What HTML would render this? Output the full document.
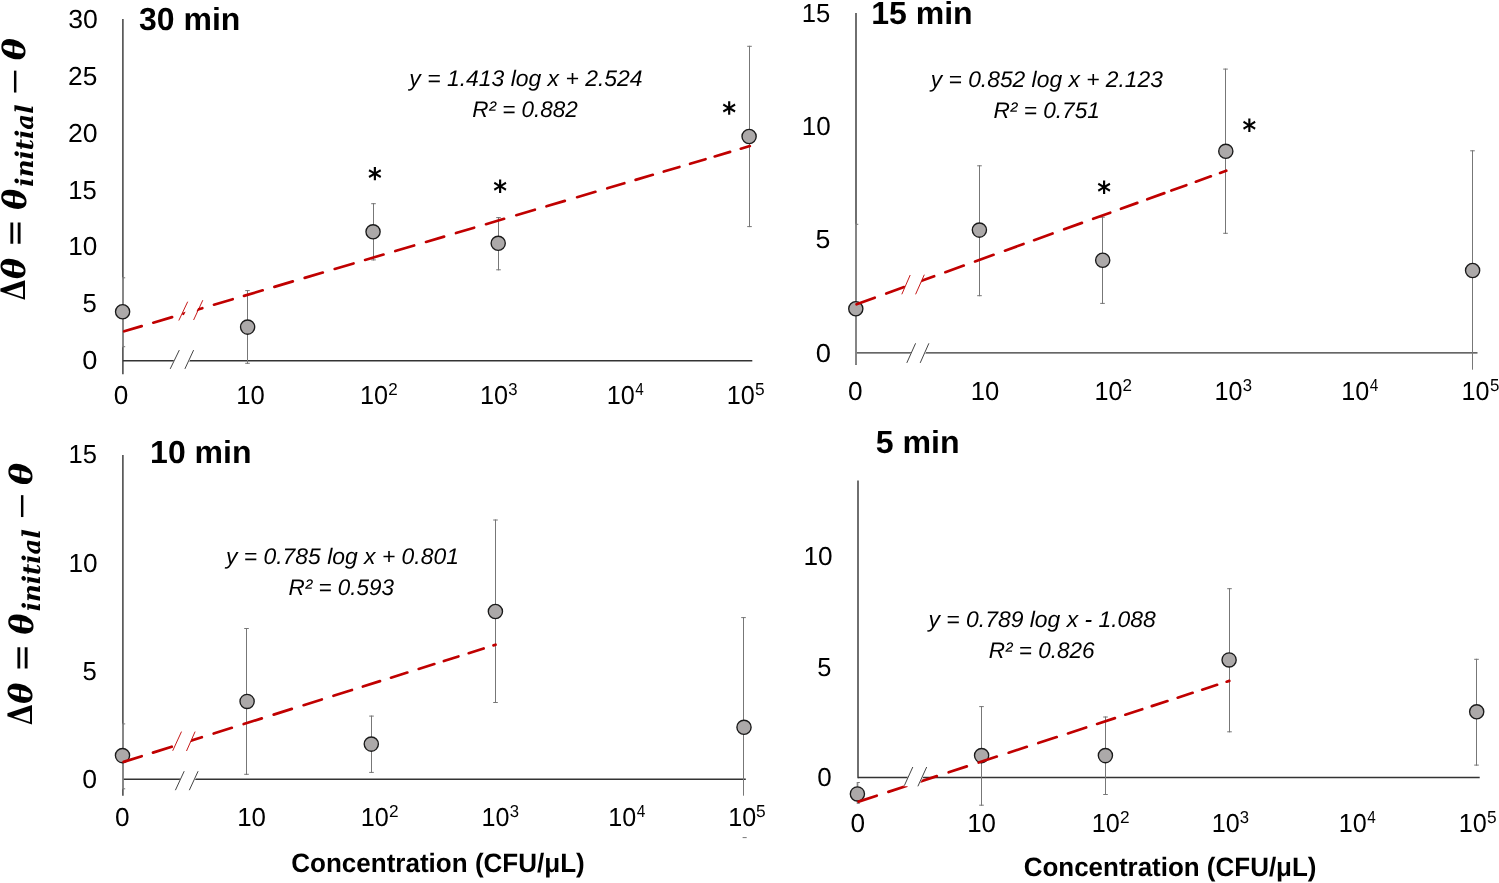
<!DOCTYPE html>
<html><head><meta charset="utf-8"><title>Contact angle change vs concentration</title>
<style>html,body{margin:0;padding:0;background:#fff;}svg{display:block;}</style></head>
<body><svg width="1499" height="883" viewBox="0 0 1499 883">
<rect x="0" y="0" width="1499" height="883" fill="#fff"/>
<g id="tl">
<line x1="122.90" y1="19.00" x2="122.90" y2="374.30" stroke="#333333" stroke-width="1.4"/>
<line x1="122.90" y1="360.70" x2="752.30" y2="360.70" stroke="#333333" stroke-width="1.4"/>
<line x1="122.90" y1="277.30" x2="122.90" y2="347.20" stroke="#8a8a8a" stroke-width="1.7"/>
<line x1="122.90" y1="277.80" x2="125.20" y2="277.80" stroke="#777777" stroke-width="1.0"/>
<line x1="122.90" y1="346.70" x2="125.20" y2="346.70" stroke="#777777" stroke-width="1.0"/>
<line x1="247.50" y1="290.10" x2="247.50" y2="363.80" stroke="#777777" stroke-width="1.0"/>
<line x1="245.20" y1="290.60" x2="249.80" y2="290.60" stroke="#777777" stroke-width="1.0"/>
<line x1="245.20" y1="363.30" x2="249.80" y2="363.30" stroke="#777777" stroke-width="1.0"/>
<line x1="373.50" y1="203.20" x2="373.50" y2="260.40" stroke="#777777" stroke-width="1.0"/>
<line x1="371.20" y1="203.70" x2="375.80" y2="203.70" stroke="#777777" stroke-width="1.0"/>
<line x1="371.20" y1="259.90" x2="375.80" y2="259.90" stroke="#777777" stroke-width="1.0"/>
<line x1="498.50" y1="217.10" x2="498.50" y2="270.30" stroke="#777777" stroke-width="1.0"/>
<line x1="496.20" y1="217.60" x2="500.80" y2="217.60" stroke="#777777" stroke-width="1.0"/>
<line x1="496.20" y1="269.80" x2="500.80" y2="269.80" stroke="#777777" stroke-width="1.0"/>
<line x1="749.50" y1="45.80" x2="749.50" y2="227.10" stroke="#777777" stroke-width="1.0"/>
<line x1="747.20" y1="46.30" x2="751.80" y2="46.30" stroke="#777777" stroke-width="1.0"/>
<line x1="747.20" y1="226.60" x2="751.80" y2="226.60" stroke="#777777" stroke-width="1.0"/>
<circle cx="122.60" cy="311.80" r="7.1" fill="#aca9a9" stroke="#1a1a1a" stroke-width="1.35"/>
<circle cx="247.60" cy="327.10" r="7.1" fill="#aca9a9" stroke="#1a1a1a" stroke-width="1.35"/>
<circle cx="373.05" cy="231.80" r="7.1" fill="#aca9a9" stroke="#1a1a1a" stroke-width="1.35"/>
<circle cx="498.20" cy="243.30" r="7.1" fill="#aca9a9" stroke="#1a1a1a" stroke-width="1.35"/>
<circle cx="749.10" cy="136.50" r="7.1" fill="#aca9a9" stroke="#1a1a1a" stroke-width="1.35"/>
<path d="M124.19 331.32L141.71 326.13 M153.29 322.70L172.11 317.13 M183.49 313.76L202.31 308.19 M213.99 304.73L232.71 299.19 M243.99 295.84L262.71 290.30 M274.39 286.84L292.81 281.39 M304.69 277.87L322.81 272.51 M334.69 268.99L353.51 263.42 M365.09 259.99L383.51 254.54 M395.29 251.05L414.11 245.48 M425.99 241.96L444.11 236.59 M455.99 233.07L474.11 227.71 M485.99 224.19L504.11 218.83 M516.29 215.22L534.81 209.74 M546.49 206.28L564.81 200.85 M577.09 197.22L595.41 191.79 M607.29 188.27L624.31 183.24 M635.59 179.89L652.81 174.80 M663.79 171.54L679.41 166.92 M690.09 163.76L705.51 159.19 M714.69 156.47L730.11 151.91 M740.79 148.74L749.81 146.08" stroke="#c00000" stroke-width="2.7" stroke-linecap="round" fill="none"/>
<polygon points="180.93,321.50 191.48,299.20 202.16,299.20 191.80,321.50" fill="#fff"/>
<line x1="178.80" y1="320.50" x2="187.70" y2="301.70" stroke="#c00000" stroke-width="0.9"/>
<line x1="193.60" y1="320.00" x2="202.80" y2="300.20" stroke="#c00000" stroke-width="0.9"/>
<polygon points="169.70,368.90 178.80,350.10 194.60,350.10 185.90,368.90" fill="#fff"/>
<line x1="170.20" y1="368.90" x2="179.30" y2="350.10" stroke="#444" stroke-width="1.0"/>
<line x1="184.90" y1="368.90" x2="193.60" y2="350.10" stroke="#444" stroke-width="1.0"/>
</g>
<g id="tr">
<line x1="856.00" y1="13.00" x2="856.00" y2="365.00" stroke="#333333" stroke-width="1.4"/>
<line x1="856.00" y1="352.90" x2="1477.50" y2="352.90" stroke="#333333" stroke-width="1.4"/>
<line x1="856.00" y1="223.80" x2="856.00" y2="364.70" stroke="#8a8a8a" stroke-width="1.7"/>
<line x1="856.00" y1="224.30" x2="858.30" y2="224.30" stroke="#777777" stroke-width="1.0"/>
<line x1="979.50" y1="165.30" x2="979.50" y2="296.20" stroke="#777777" stroke-width="1.0"/>
<line x1="977.20" y1="165.80" x2="981.80" y2="165.80" stroke="#777777" stroke-width="1.0"/>
<line x1="977.20" y1="295.70" x2="981.80" y2="295.70" stroke="#777777" stroke-width="1.0"/>
<line x1="1102.50" y1="216.70" x2="1102.50" y2="303.90" stroke="#777777" stroke-width="1.0"/>
<line x1="1100.20" y1="217.20" x2="1104.80" y2="217.20" stroke="#777777" stroke-width="1.0"/>
<line x1="1100.20" y1="303.40" x2="1104.80" y2="303.40" stroke="#777777" stroke-width="1.0"/>
<line x1="1225.50" y1="68.60" x2="1225.50" y2="233.80" stroke="#777777" stroke-width="1.0"/>
<line x1="1223.20" y1="69.10" x2="1227.80" y2="69.10" stroke="#777777" stroke-width="1.0"/>
<line x1="1223.20" y1="233.30" x2="1227.80" y2="233.30" stroke="#777777" stroke-width="1.0"/>
<line x1="1472.50" y1="150.30" x2="1472.50" y2="369.70" stroke="#777777" stroke-width="1.0"/>
<line x1="1470.20" y1="150.80" x2="1474.80" y2="150.80" stroke="#777777" stroke-width="1.0"/>
<circle cx="855.80" cy="308.70" r="7.1" fill="#aca9a9" stroke="#1a1a1a" stroke-width="1.35"/>
<circle cx="979.40" cy="230.10" r="7.1" fill="#aca9a9" stroke="#1a1a1a" stroke-width="1.35"/>
<circle cx="1102.70" cy="260.20" r="7.1" fill="#aca9a9" stroke="#1a1a1a" stroke-width="1.35"/>
<circle cx="1225.80" cy="151.30" r="7.1" fill="#aca9a9" stroke="#1a1a1a" stroke-width="1.35"/>
<circle cx="1472.60" cy="270.50" r="7.1" fill="#aca9a9" stroke="#1a1a1a" stroke-width="1.35"/>
<path d="M856.57 304.26L874.73 297.70 M886.27 293.53L904.13 287.08 M916.07 282.77L934.13 276.25 M945.37 272.19L963.73 265.56 M975.07 261.46L993.53 254.79 M1004.97 250.66L1023.53 243.96 M1034.07 240.15L1052.53 233.48 M1064.17 229.28L1081.93 222.87 M1093.17 218.81L1110.23 212.65 M1120.97 208.77L1137.33 202.86 M1147.27 199.27L1164.33 193.11 M1171.37 190.56L1186.33 185.16 M1195.87 181.72L1210.83 176.31 M1220.07 172.98L1226.23 170.75" stroke="#c00000" stroke-width="2.7" stroke-linecap="round" fill="none"/>
<polygon points="901.36,295.30 910.77,273.70 924.74,273.70 915.16,295.30" fill="#fff"/>
<line x1="901.80" y1="294.30" x2="910.20" y2="275.00" stroke="#c00000" stroke-width="0.9"/>
<line x1="915.60" y1="294.30" x2="924.30" y2="274.70" stroke="#c00000" stroke-width="0.9"/>
<polygon points="906.30,362.90 915.10,343.30 929.90,343.30 921.20,362.90" fill="#fff"/>
<line x1="906.80" y1="362.90" x2="915.60" y2="343.30" stroke="#444" stroke-width="1.0"/>
<line x1="920.20" y1="362.90" x2="928.90" y2="343.30" stroke="#444" stroke-width="1.0"/>
</g>
<g id="bl">
<line x1="122.90" y1="454.90" x2="122.90" y2="795.70" stroke="#333333" stroke-width="1.4"/>
<line x1="122.90" y1="779.30" x2="745.80" y2="779.30" stroke="#333333" stroke-width="1.4"/>
<line x1="122.90" y1="723.40" x2="122.90" y2="789.30" stroke="#8a8a8a" stroke-width="1.7"/>
<line x1="122.90" y1="723.90" x2="125.20" y2="723.90" stroke="#777777" stroke-width="1.0"/>
<line x1="122.90" y1="788.80" x2="125.20" y2="788.80" stroke="#777777" stroke-width="1.0"/>
<line x1="246.50" y1="628.00" x2="246.50" y2="774.80" stroke="#777777" stroke-width="1.0"/>
<line x1="244.20" y1="628.50" x2="248.80" y2="628.50" stroke="#777777" stroke-width="1.0"/>
<line x1="244.20" y1="774.30" x2="248.80" y2="774.30" stroke="#777777" stroke-width="1.0"/>
<line x1="371.50" y1="715.60" x2="371.50" y2="772.90" stroke="#777777" stroke-width="1.0"/>
<line x1="369.20" y1="716.10" x2="373.80" y2="716.10" stroke="#777777" stroke-width="1.0"/>
<line x1="369.20" y1="772.40" x2="373.80" y2="772.40" stroke="#777777" stroke-width="1.0"/>
<line x1="495.50" y1="519.50" x2="495.50" y2="703.00" stroke="#777777" stroke-width="1.0"/>
<line x1="493.20" y1="520.00" x2="497.80" y2="520.00" stroke="#777777" stroke-width="1.0"/>
<line x1="493.20" y1="702.50" x2="497.80" y2="702.50" stroke="#777777" stroke-width="1.0"/>
<line x1="743.50" y1="617.10" x2="743.50" y2="795.70" stroke="#777777" stroke-width="1.0"/>
<line x1="741.20" y1="617.60" x2="745.80" y2="617.60" stroke="#777777" stroke-width="1.0"/>
<circle cx="122.50" cy="755.60" r="7.1" fill="#aca9a9" stroke="#1a1a1a" stroke-width="1.35"/>
<circle cx="247.10" cy="701.40" r="7.1" fill="#aca9a9" stroke="#1a1a1a" stroke-width="1.35"/>
<circle cx="371.30" cy="744.10" r="7.1" fill="#aca9a9" stroke="#1a1a1a" stroke-width="1.35"/>
<circle cx="495.40" cy="611.50" r="7.1" fill="#aca9a9" stroke="#1a1a1a" stroke-width="1.35"/>
<circle cx="744.00" cy="727.30" r="7.1" fill="#aca9a9" stroke="#1a1a1a" stroke-width="1.35"/>
<path d="M123.59 761.88L141.71 756.18 M152.99 752.62L171.71 746.73 M183.09 743.14L201.81 737.25 M213.69 733.51L231.81 727.80 M243.69 724.06L261.81 718.35 M273.69 714.61L291.81 708.90 M303.59 705.19L321.81 699.45 M333.49 695.78L351.91 689.97 M362.89 686.52L380.01 681.12 M390.99 677.67L407.31 672.53 M418.69 668.94L434.31 664.02 M443.89 661.01L458.41 656.43 M468.69 653.20L483.61 648.50 M493.49 645.39L495.51 644.75" stroke="#c00000" stroke-width="2.7" stroke-linecap="round" fill="none"/>
<polygon points="172.15,752.00 181.96,730.60 195.54,730.60 186.06,752.00" fill="#fff"/>
<line x1="172.70" y1="750.80" x2="181.50" y2="731.60" stroke="#c00000" stroke-width="0.9"/>
<line x1="186.50" y1="751.00" x2="195.10" y2="731.60" stroke="#c00000" stroke-width="0.9"/>
<polygon points="174.90,790.20 183.70,771.20 199.10,771.20 190.30,790.20" fill="#fff"/>
<line x1="175.40" y1="790.20" x2="184.20" y2="771.20" stroke="#444" stroke-width="1.0"/>
<line x1="189.30" y1="790.20" x2="198.10" y2="771.20" stroke="#444" stroke-width="1.0"/>
</g>
<g id="br">
<line x1="858.00" y1="480.50" x2="858.00" y2="778.30" stroke="#333333" stroke-width="1.4"/>
<line x1="858.00" y1="777.50" x2="1479.70" y2="777.50" stroke="#333333" stroke-width="1.4"/>
<line x1="857.50" y1="782.00" x2="857.50" y2="803.80" stroke="#8a8a8a" stroke-width="1.7"/>
<line x1="857.50" y1="782.50" x2="859.80" y2="782.50" stroke="#777777" stroke-width="1.0"/>
<line x1="857.50" y1="803.30" x2="859.80" y2="803.30" stroke="#777777" stroke-width="1.0"/>
<line x1="981.50" y1="706.10" x2="981.50" y2="805.70" stroke="#777777" stroke-width="1.0"/>
<line x1="979.20" y1="706.60" x2="983.80" y2="706.60" stroke="#777777" stroke-width="1.0"/>
<line x1="979.20" y1="805.20" x2="983.80" y2="805.20" stroke="#777777" stroke-width="1.0"/>
<line x1="1105.50" y1="716.50" x2="1105.50" y2="795.00" stroke="#777777" stroke-width="1.0"/>
<line x1="1103.20" y1="717.00" x2="1107.80" y2="717.00" stroke="#777777" stroke-width="1.0"/>
<line x1="1103.20" y1="794.50" x2="1107.80" y2="794.50" stroke="#777777" stroke-width="1.0"/>
<line x1="1229.50" y1="588.20" x2="1229.50" y2="732.30" stroke="#777777" stroke-width="1.0"/>
<line x1="1227.20" y1="588.70" x2="1231.80" y2="588.70" stroke="#777777" stroke-width="1.0"/>
<line x1="1227.20" y1="731.80" x2="1231.80" y2="731.80" stroke="#777777" stroke-width="1.0"/>
<line x1="1476.50" y1="658.80" x2="1476.50" y2="765.60" stroke="#777777" stroke-width="1.0"/>
<line x1="1474.20" y1="659.30" x2="1478.80" y2="659.30" stroke="#777777" stroke-width="1.0"/>
<line x1="1474.20" y1="765.10" x2="1478.80" y2="765.10" stroke="#777777" stroke-width="1.0"/>
<circle cx="857.40" cy="793.90" r="7.1" fill="#aca9a9" stroke="#1a1a1a" stroke-width="1.35"/>
<circle cx="981.60" cy="755.60" r="7.1" fill="#aca9a9" stroke="#1a1a1a" stroke-width="1.35"/>
<circle cx="1105.40" cy="755.60" r="7.1" fill="#aca9a9" stroke="#1a1a1a" stroke-width="1.35"/>
<circle cx="1229.10" cy="659.90" r="7.1" fill="#aca9a9" stroke="#1a1a1a" stroke-width="1.35"/>
<circle cx="1476.70" cy="711.80" r="7.1" fill="#aca9a9" stroke="#1a1a1a" stroke-width="1.35"/>
<path d="M858.58 801.61L876.72 795.70 M888.38 791.90L906.32 786.06 M918.28 782.16L936.82 776.13 M948.68 772.26L966.82 766.36 M978.68 762.49L996.82 756.59 M1008.68 752.72L1026.82 746.81 M1038.28 743.08L1056.72 737.08 M1067.98 733.41L1086.12 727.50 M1097.08 723.93L1114.92 718.12 M1125.38 714.71L1142.22 709.23 M1151.78 706.11L1167.42 701.02 M1177.68 697.67L1192.62 692.81 M1202.18 689.70L1217.12 684.83 M1226.68 681.72L1229.32 680.86" stroke="#c00000" stroke-width="2.7" stroke-linecap="round" fill="none"/>
<polygon points="903.53,786.30 912.30,767.00 927.70,767.00 918.90,786.30" fill="#fff"/>
<line x1="904.30" y1="785.70" x2="912.80" y2="767.00" stroke="#444" stroke-width="1.0"/>
<line x1="917.90" y1="786.30" x2="926.70" y2="767.00" stroke="#444" stroke-width="1.0"/>
</g>
<line x1="742.60" y1="837.60" x2="746.70" y2="837.60" stroke="#777777" stroke-width="1.0"/>
<text x="68.15" y="27.65" font-family="&quot;Liberation Sans&quot;, Arial, sans-serif" font-size="26.00" font-weight="normal" font-style="normal" textLength="29.62" lengthAdjust="spacingAndGlyphs" text-rendering="geometricPrecision">30</text>
<text x="68.14" y="84.60" font-family="&quot;Liberation Sans&quot;, Arial, sans-serif" font-size="26.00" font-weight="normal" font-style="normal" textLength="29.23" lengthAdjust="spacingAndGlyphs" text-rendering="geometricPrecision">25</text>
<text x="68.01" y="141.55" font-family="&quot;Liberation Sans&quot;, Arial, sans-serif" font-size="26.00" font-weight="normal" font-style="normal" textLength="29.67" lengthAdjust="spacingAndGlyphs" text-rendering="geometricPrecision">20</text>
<text x="68.30" y="198.55" font-family="&quot;Liberation Sans&quot;, Arial, sans-serif" font-size="26.00" font-weight="normal" font-style="normal" textLength="28.48" lengthAdjust="spacingAndGlyphs" text-rendering="geometricPrecision">15</text>
<text x="68.16" y="255.45" font-family="&quot;Liberation Sans&quot;, Arial, sans-serif" font-size="26.00" font-weight="normal" font-style="normal" textLength="29.12" lengthAdjust="spacingAndGlyphs" text-rendering="geometricPrecision">10</text>
<text x="82.58" y="312.45" font-family="&quot;Liberation Sans&quot;, Arial, sans-serif" font-size="26.00" font-weight="normal" font-style="normal" textLength="14.30" lengthAdjust="spacingAndGlyphs" text-rendering="geometricPrecision">5</text>
<text x="82.30" y="369.40" font-family="&quot;Liberation Sans&quot;, Arial, sans-serif" font-size="26.00" font-weight="normal" font-style="normal" textLength="15.15" lengthAdjust="spacingAndGlyphs" text-rendering="geometricPrecision">0</text>
<text x="801.70" y="21.50" font-family="&quot;Liberation Sans&quot;, Arial, sans-serif" font-size="26.00" font-weight="normal" font-style="normal" textLength="28.54" lengthAdjust="spacingAndGlyphs" text-rendering="geometricPrecision">15</text>
<text x="801.76" y="134.55" font-family="&quot;Liberation Sans&quot;, Arial, sans-serif" font-size="26.00" font-weight="normal" font-style="normal" textLength="28.91" lengthAdjust="spacingAndGlyphs" text-rendering="geometricPrecision">10</text>
<text x="815.55" y="248.15" font-family="&quot;Liberation Sans&quot;, Arial, sans-serif" font-size="26.00" font-weight="normal" font-style="normal" textLength="14.86" lengthAdjust="spacingAndGlyphs" text-rendering="geometricPrecision">5</text>
<text x="815.72" y="361.55" font-family="&quot;Liberation Sans&quot;, Arial, sans-serif" font-size="26.00" font-weight="normal" font-style="normal" textLength="15.20" lengthAdjust="spacingAndGlyphs" text-rendering="geometricPrecision">0</text>
<text x="68.44" y="463.45" font-family="&quot;Liberation Sans&quot;, Arial, sans-serif" font-size="26.00" font-weight="normal" font-style="normal" textLength="28.44" lengthAdjust="spacingAndGlyphs" text-rendering="geometricPrecision">15</text>
<text x="68.46" y="571.55" font-family="&quot;Liberation Sans&quot;, Arial, sans-serif" font-size="26.00" font-weight="normal" font-style="normal" textLength="29.17" lengthAdjust="spacingAndGlyphs" text-rendering="geometricPrecision">10</text>
<text x="82.58" y="680.05" font-family="&quot;Liberation Sans&quot;, Arial, sans-serif" font-size="26.00" font-weight="normal" font-style="normal" textLength="14.30" lengthAdjust="spacingAndGlyphs" text-rendering="geometricPrecision">5</text>
<text x="82.29" y="788.15" font-family="&quot;Liberation Sans&quot;, Arial, sans-serif" font-size="26.00" font-weight="normal" font-style="normal" textLength="14.81" lengthAdjust="spacingAndGlyphs" text-rendering="geometricPrecision">0</text>
<text x="803.46" y="565.45" font-family="&quot;Liberation Sans&quot;, Arial, sans-serif" font-size="26.00" font-weight="normal" font-style="normal" textLength="29.17" lengthAdjust="spacingAndGlyphs" text-rendering="geometricPrecision">10</text>
<text x="817.37" y="675.55" font-family="&quot;Liberation Sans&quot;, Arial, sans-serif" font-size="26.00" font-weight="normal" font-style="normal" textLength="14.16" lengthAdjust="spacingAndGlyphs" text-rendering="geometricPrecision">5</text>
<text x="817.35" y="786.30" font-family="&quot;Liberation Sans&quot;, Arial, sans-serif" font-size="26.00" font-weight="normal" font-style="normal" textLength="14.47" lengthAdjust="spacingAndGlyphs" text-rendering="geometricPrecision">0</text>
<text x="113.74" y="404.30" font-family="&quot;Liberation Sans&quot;, Arial, sans-serif" font-size="26.00" font-weight="normal" font-style="normal" textLength="14.56" lengthAdjust="spacingAndGlyphs" text-rendering="geometricPrecision">0</text>
<text x="236.28" y="404.30" font-family="&quot;Liberation Sans&quot;, Arial, sans-serif" font-size="26.00" font-weight="normal" font-style="normal" textLength="28.54" lengthAdjust="spacingAndGlyphs" text-rendering="geometricPrecision">10</text>
<text x="360.08" y="404.30" font-family="&quot;Liberation Sans&quot;, Arial, sans-serif" font-size="26.00" font-weight="normal" font-style="normal" textLength="28.07" lengthAdjust="spacingAndGlyphs" text-rendering="geometricPrecision">10</text>
<text x="388.22" y="395.45" font-family="&quot;Liberation Sans&quot;, Arial, sans-serif" font-size="17.30" font-weight="normal" font-style="normal" textLength="9.47" lengthAdjust="spacingAndGlyphs" text-rendering="geometricPrecision">2</text>
<text x="480.06" y="404.30" font-family="&quot;Liberation Sans&quot;, Arial, sans-serif" font-size="26.00" font-weight="normal" font-style="normal" textLength="28.07" lengthAdjust="spacingAndGlyphs" text-rendering="geometricPrecision">10</text>
<text x="508.27" y="395.45" font-family="&quot;Liberation Sans&quot;, Arial, sans-serif" font-size="17.30" font-weight="normal" font-style="normal" textLength="9.28" lengthAdjust="spacingAndGlyphs" text-rendering="geometricPrecision">3</text>
<text x="606.83" y="404.30" font-family="&quot;Liberation Sans&quot;, Arial, sans-serif" font-size="26.00" font-weight="normal" font-style="normal" textLength="28.07" lengthAdjust="spacingAndGlyphs" text-rendering="geometricPrecision">10</text>
<text x="635.18" y="395.45" font-family="&quot;Liberation Sans&quot;, Arial, sans-serif" font-size="17.30" font-weight="normal" font-style="normal" textLength="8.52" lengthAdjust="spacingAndGlyphs" text-rendering="geometricPrecision">4</text>
<text x="726.79" y="404.30" font-family="&quot;Liberation Sans&quot;, Arial, sans-serif" font-size="26.00" font-weight="normal" font-style="normal" textLength="28.05" lengthAdjust="spacingAndGlyphs" text-rendering="geometricPrecision">10</text>
<text x="754.98" y="395.45" font-family="&quot;Liberation Sans&quot;, Arial, sans-serif" font-size="17.30" font-weight="normal" font-style="normal" textLength="9.63" lengthAdjust="spacingAndGlyphs" text-rendering="geometricPrecision">5</text>
<text x="848.06" y="400.30" font-family="&quot;Liberation Sans&quot;, Arial, sans-serif" font-size="26.00" font-weight="normal" font-style="normal" textLength="14.60" lengthAdjust="spacingAndGlyphs" text-rendering="geometricPrecision">0</text>
<text x="970.66" y="400.30" font-family="&quot;Liberation Sans&quot;, Arial, sans-serif" font-size="26.00" font-weight="normal" font-style="normal" textLength="28.49" lengthAdjust="spacingAndGlyphs" text-rendering="geometricPrecision">10</text>
<text x="1094.44" y="400.30" font-family="&quot;Liberation Sans&quot;, Arial, sans-serif" font-size="26.00" font-weight="normal" font-style="normal" textLength="27.96" lengthAdjust="spacingAndGlyphs" text-rendering="geometricPrecision">10</text>
<text x="1122.42" y="391.45" font-family="&quot;Liberation Sans&quot;, Arial, sans-serif" font-size="17.30" font-weight="normal" font-style="normal" textLength="9.48" lengthAdjust="spacingAndGlyphs" text-rendering="geometricPrecision">2</text>
<text x="1214.55" y="400.30" font-family="&quot;Liberation Sans&quot;, Arial, sans-serif" font-size="26.00" font-weight="normal" font-style="normal" textLength="27.96" lengthAdjust="spacingAndGlyphs" text-rendering="geometricPrecision">10</text>
<text x="1242.71" y="391.45" font-family="&quot;Liberation Sans&quot;, Arial, sans-serif" font-size="17.30" font-weight="normal" font-style="normal" textLength="9.28" lengthAdjust="spacingAndGlyphs" text-rendering="geometricPrecision">3</text>
<text x="1341.33" y="400.30" font-family="&quot;Liberation Sans&quot;, Arial, sans-serif" font-size="26.00" font-weight="normal" font-style="normal" textLength="27.96" lengthAdjust="spacingAndGlyphs" text-rendering="geometricPrecision">10</text>
<text x="1369.87" y="391.45" font-family="&quot;Liberation Sans&quot;, Arial, sans-serif" font-size="17.30" font-weight="normal" font-style="normal" textLength="8.57" lengthAdjust="spacingAndGlyphs" text-rendering="geometricPrecision">4</text>
<text x="1461.58" y="400.30" font-family="&quot;Liberation Sans&quot;, Arial, sans-serif" font-size="26.00" font-weight="normal" font-style="normal" textLength="27.96" lengthAdjust="spacingAndGlyphs" text-rendering="geometricPrecision">10</text>
<text x="1489.90" y="391.45" font-family="&quot;Liberation Sans&quot;, Arial, sans-serif" font-size="17.30" font-weight="normal" font-style="normal" textLength="9.40" lengthAdjust="spacingAndGlyphs" text-rendering="geometricPrecision">5</text>
<text x="115.01" y="826.30" font-family="&quot;Liberation Sans&quot;, Arial, sans-serif" font-size="26.00" font-weight="normal" font-style="normal" textLength="14.59" lengthAdjust="spacingAndGlyphs" text-rendering="geometricPrecision">0</text>
<text x="237.13" y="826.30" font-family="&quot;Liberation Sans&quot;, Arial, sans-serif" font-size="26.00" font-weight="normal" font-style="normal" textLength="28.81" lengthAdjust="spacingAndGlyphs" text-rendering="geometricPrecision">10</text>
<text x="360.83" y="826.30" font-family="&quot;Liberation Sans&quot;, Arial, sans-serif" font-size="26.00" font-weight="normal" font-style="normal" textLength="28.07" lengthAdjust="spacingAndGlyphs" text-rendering="geometricPrecision">10</text>
<text x="388.93" y="817.45" font-family="&quot;Liberation Sans&quot;, Arial, sans-serif" font-size="17.30" font-weight="normal" font-style="normal" textLength="9.61" lengthAdjust="spacingAndGlyphs" text-rendering="geometricPrecision">2</text>
<text x="481.55" y="826.30" font-family="&quot;Liberation Sans&quot;, Arial, sans-serif" font-size="26.00" font-weight="normal" font-style="normal" textLength="27.96" lengthAdjust="spacingAndGlyphs" text-rendering="geometricPrecision">10</text>
<text x="509.71" y="817.45" font-family="&quot;Liberation Sans&quot;, Arial, sans-serif" font-size="17.30" font-weight="normal" font-style="normal" textLength="9.28" lengthAdjust="spacingAndGlyphs" text-rendering="geometricPrecision">3</text>
<text x="608.33" y="826.30" font-family="&quot;Liberation Sans&quot;, Arial, sans-serif" font-size="26.00" font-weight="normal" font-style="normal" textLength="27.96" lengthAdjust="spacingAndGlyphs" text-rendering="geometricPrecision">10</text>
<text x="636.87" y="817.45" font-family="&quot;Liberation Sans&quot;, Arial, sans-serif" font-size="17.30" font-weight="normal" font-style="normal" textLength="8.57" lengthAdjust="spacingAndGlyphs" text-rendering="geometricPrecision">4</text>
<text x="728.33" y="826.30" font-family="&quot;Liberation Sans&quot;, Arial, sans-serif" font-size="26.00" font-weight="normal" font-style="normal" textLength="27.96" lengthAdjust="spacingAndGlyphs" text-rendering="geometricPrecision">10</text>
<text x="756.05" y="817.45" font-family="&quot;Liberation Sans&quot;, Arial, sans-serif" font-size="17.30" font-weight="normal" font-style="normal" textLength="9.64" lengthAdjust="spacingAndGlyphs" text-rendering="geometricPrecision">5</text>
<text x="850.61" y="832.00" font-family="&quot;Liberation Sans&quot;, Arial, sans-serif" font-size="26.00" font-weight="normal" font-style="normal" textLength="14.59" lengthAdjust="spacingAndGlyphs" text-rendering="geometricPrecision">0</text>
<text x="967.13" y="832.00" font-family="&quot;Liberation Sans&quot;, Arial, sans-serif" font-size="26.00" font-weight="normal" font-style="normal" textLength="28.81" lengthAdjust="spacingAndGlyphs" text-rendering="geometricPrecision">10</text>
<text x="1091.83" y="832.00" font-family="&quot;Liberation Sans&quot;, Arial, sans-serif" font-size="26.00" font-weight="normal" font-style="normal" textLength="28.07" lengthAdjust="spacingAndGlyphs" text-rendering="geometricPrecision">10</text>
<text x="1119.93" y="823.15" font-family="&quot;Liberation Sans&quot;, Arial, sans-serif" font-size="17.30" font-weight="normal" font-style="normal" textLength="9.61" lengthAdjust="spacingAndGlyphs" text-rendering="geometricPrecision">2</text>
<text x="1211.79" y="832.00" font-family="&quot;Liberation Sans&quot;, Arial, sans-serif" font-size="26.00" font-weight="normal" font-style="normal" textLength="27.96" lengthAdjust="spacingAndGlyphs" text-rendering="geometricPrecision">10</text>
<text x="1239.72" y="823.15" font-family="&quot;Liberation Sans&quot;, Arial, sans-serif" font-size="17.30" font-weight="normal" font-style="normal" textLength="9.27" lengthAdjust="spacingAndGlyphs" text-rendering="geometricPrecision">3</text>
<text x="1338.79" y="832.00" font-family="&quot;Liberation Sans&quot;, Arial, sans-serif" font-size="26.00" font-weight="normal" font-style="normal" textLength="27.96" lengthAdjust="spacingAndGlyphs" text-rendering="geometricPrecision">10</text>
<text x="1367.13" y="823.15" font-family="&quot;Liberation Sans&quot;, Arial, sans-serif" font-size="17.30" font-weight="normal" font-style="normal" textLength="8.52" lengthAdjust="spacingAndGlyphs" text-rendering="geometricPrecision">4</text>
<text x="1458.79" y="832.00" font-family="&quot;Liberation Sans&quot;, Arial, sans-serif" font-size="26.00" font-weight="normal" font-style="normal" textLength="28.05" lengthAdjust="spacingAndGlyphs" text-rendering="geometricPrecision">10</text>
<text x="1486.98" y="823.15" font-family="&quot;Liberation Sans&quot;, Arial, sans-serif" font-size="17.30" font-weight="normal" font-style="normal" textLength="9.63" lengthAdjust="spacingAndGlyphs" text-rendering="geometricPrecision">5</text>
<text x="139.00" y="29.90" font-family="&quot;Liberation Sans&quot;, Arial, sans-serif" font-size="31.90" font-weight="bold" font-style="normal" textLength="101.34" lengthAdjust="spacingAndGlyphs" text-rendering="geometricPrecision">30 min</text>
<text x="871.15" y="24.20" font-family="&quot;Liberation Sans&quot;, Arial, sans-serif" font-size="31.90" font-weight="bold" font-style="normal" textLength="101.53" lengthAdjust="spacingAndGlyphs" text-rendering="geometricPrecision">15 min</text>
<text x="150.11" y="463.00" font-family="&quot;Liberation Sans&quot;, Arial, sans-serif" font-size="31.90" font-weight="bold" font-style="normal" textLength="101.44" lengthAdjust="spacingAndGlyphs" text-rendering="geometricPrecision">10 min</text>
<text x="875.77" y="453.00" font-family="&quot;Liberation Sans&quot;, Arial, sans-serif" font-size="31.90" font-weight="bold" font-style="normal" textLength="83.87" lengthAdjust="spacingAndGlyphs" text-rendering="geometricPrecision">5 min</text>
<text x="409.32" y="86.00" font-family="&quot;Liberation Sans&quot;, Arial, sans-serif" font-size="22.60" font-weight="normal" font-style="italic" textLength="233.30" lengthAdjust="spacingAndGlyphs" text-rendering="geometricPrecision">y = 1.413 log x + 2.524</text>
<text x="472.20" y="116.90" font-family="&quot;Liberation Sans&quot;, Arial, sans-serif" font-size="22.60" font-weight="normal" font-style="italic" textLength="105.58" lengthAdjust="spacingAndGlyphs" text-rendering="geometricPrecision">R² = 0.882</text>
<text x="930.78" y="86.70" font-family="&quot;Liberation Sans&quot;, Arial, sans-serif" font-size="22.60" font-weight="normal" font-style="italic" textLength="232.18" lengthAdjust="spacingAndGlyphs" text-rendering="geometricPrecision">y = 0.852 log x + 2.123</text>
<text x="993.48" y="118.40" font-family="&quot;Liberation Sans&quot;, Arial, sans-serif" font-size="22.60" font-weight="normal" font-style="italic" textLength="106.41" lengthAdjust="spacingAndGlyphs" text-rendering="geometricPrecision">R² = 0.751</text>
<text x="225.91" y="563.70" font-family="&quot;Liberation Sans&quot;, Arial, sans-serif" font-size="22.60" font-weight="normal" font-style="italic" textLength="233.05" lengthAdjust="spacingAndGlyphs" text-rendering="geometricPrecision">y = 0.785 log x + 0.801</text>
<text x="288.48" y="595.00" font-family="&quot;Liberation Sans&quot;, Arial, sans-serif" font-size="22.60" font-weight="normal" font-style="italic" textLength="105.54" lengthAdjust="spacingAndGlyphs" text-rendering="geometricPrecision">R² = 0.593</text>
<text x="928.51" y="627.00" font-family="&quot;Liberation Sans&quot;, Arial, sans-serif" font-size="22.60" font-weight="normal" font-style="italic" textLength="227.28" lengthAdjust="spacingAndGlyphs" text-rendering="geometricPrecision">y = 0.789 log x - 1.088</text>
<text x="988.81" y="658.40" font-family="&quot;Liberation Sans&quot;, Arial, sans-serif" font-size="22.60" font-weight="normal" font-style="italic" textLength="105.73" lengthAdjust="spacingAndGlyphs" text-rendering="geometricPrecision">R² = 0.826</text>
<text x="291.22" y="871.60" font-family="&quot;Liberation Sans&quot;, Arial, sans-serif" font-size="26.60" font-weight="bold" font-style="normal" textLength="293.57" lengthAdjust="spacingAndGlyphs" text-rendering="geometricPrecision">Concentration (CFU/μL)</text>
<text x="1023.67" y="876.20" font-family="&quot;Liberation Sans&quot;, Arial, sans-serif" font-size="26.60" font-weight="bold" font-style="normal" textLength="292.85" lengthAdjust="spacingAndGlyphs" text-rendering="geometricPrecision">Concentration (CFU/μL)</text>
<text x="367.97" y="188.40" font-family="&quot;DejaVu Sans&quot;, sans-serif" font-size="28.31" font-weight="bold" font-style="normal" textLength="13.78" lengthAdjust="spacingAndGlyphs" text-rendering="geometricPrecision">*</text>
<text x="493.17" y="201.36" font-family="&quot;DejaVu Sans&quot;, sans-serif" font-size="28.95" font-weight="bold" font-style="normal" textLength="13.73" lengthAdjust="spacingAndGlyphs" text-rendering="geometricPrecision">*</text>
<text x="722.28" y="123.33" font-family="&quot;DejaVu Sans&quot;, sans-serif" font-size="29.39" font-weight="bold" font-style="normal" textLength="13.88" lengthAdjust="spacingAndGlyphs" text-rendering="geometricPrecision">*</text>
<text x="1097.17" y="201.76" font-family="&quot;DejaVu Sans&quot;, sans-serif" font-size="29.03" font-weight="bold" font-style="normal" textLength="13.70" lengthAdjust="spacingAndGlyphs" text-rendering="geometricPrecision">*</text>
<text x="1242.39" y="139.96" font-family="&quot;DejaVu Sans&quot;, sans-serif" font-size="28.95" font-weight="bold" font-style="normal" textLength="13.67" lengthAdjust="spacingAndGlyphs" text-rendering="geometricPrecision">*</text>
<g transform="translate(0.00,300.00) rotate(-90)">
<text x="-0.52" y="25.36" font-family="&quot;DejaVu Serif&quot;, serif" font-size="33.76" font-weight="bold" font-style="normal" textLength="21.21" lengthAdjust="spacingAndGlyphs" text-rendering="geometricPrecision">Δ</text>
<text x="21.01" y="25.38" font-family="&quot;DejaVu Serif&quot;, serif" font-size="31.75" font-weight="bold" font-style="italic" textLength="20.95" lengthAdjust="spacingAndGlyphs" text-rendering="geometricPrecision">θ</text>
<text x="52.67" y="26.56" font-family="&quot;DejaVu Serif&quot;, serif" font-size="36.76" font-weight="normal" font-style="normal" textLength="28.41" lengthAdjust="spacingAndGlyphs" text-rendering="geometricPrecision">=</text>
<text x="90.30" y="26.19" font-family="&quot;DejaVu Serif&quot;, serif" font-size="32.13" font-weight="bold" font-style="italic" textLength="20.91" lengthAdjust="spacingAndGlyphs" text-rendering="geometricPrecision">θ</text>
<text x="113.36" y="32.56" font-family="&quot;DejaVu Serif&quot;, serif" font-size="24.51" font-weight="bold" font-style="italic" textLength="82.11" lengthAdjust="spacingAndGlyphs" text-rendering="geometricPrecision">initial</text>
<text x="203.86" y="24.60" font-family="&quot;DejaVu Serif&quot;, serif" font-size="31.31" font-weight="normal" font-style="normal" textLength="29.34" lengthAdjust="spacingAndGlyphs" text-rendering="geometricPrecision">−</text>
<text x="239.72" y="24.83" font-family="&quot;DejaVu Serif&quot;, serif" font-size="30.67" font-weight="bold" font-style="italic" textLength="22.10" lengthAdjust="spacingAndGlyphs" text-rendering="geometricPrecision">θ</text>
</g>
<g transform="translate(7.00,724.70) rotate(-90)">
<text x="-0.52" y="25.36" font-family="&quot;DejaVu Serif&quot;, serif" font-size="33.76" font-weight="bold" font-style="normal" textLength="21.21" lengthAdjust="spacingAndGlyphs" text-rendering="geometricPrecision">Δ</text>
<text x="21.01" y="25.38" font-family="&quot;DejaVu Serif&quot;, serif" font-size="31.75" font-weight="bold" font-style="italic" textLength="20.95" lengthAdjust="spacingAndGlyphs" text-rendering="geometricPrecision">θ</text>
<text x="52.67" y="26.56" font-family="&quot;DejaVu Serif&quot;, serif" font-size="36.76" font-weight="normal" font-style="normal" textLength="28.41" lengthAdjust="spacingAndGlyphs" text-rendering="geometricPrecision">=</text>
<text x="90.30" y="26.19" font-family="&quot;DejaVu Serif&quot;, serif" font-size="32.13" font-weight="bold" font-style="italic" textLength="20.91" lengthAdjust="spacingAndGlyphs" text-rendering="geometricPrecision">θ</text>
<text x="113.36" y="32.56" font-family="&quot;DejaVu Serif&quot;, serif" font-size="24.51" font-weight="bold" font-style="italic" textLength="82.11" lengthAdjust="spacingAndGlyphs" text-rendering="geometricPrecision">initial</text>
<text x="203.86" y="24.60" font-family="&quot;DejaVu Serif&quot;, serif" font-size="31.31" font-weight="normal" font-style="normal" textLength="29.34" lengthAdjust="spacingAndGlyphs" text-rendering="geometricPrecision">−</text>
<text x="239.72" y="24.83" font-family="&quot;DejaVu Serif&quot;, serif" font-size="30.67" font-weight="bold" font-style="italic" textLength="22.10" lengthAdjust="spacingAndGlyphs" text-rendering="geometricPrecision">θ</text>
</g>
</svg></body></html>
